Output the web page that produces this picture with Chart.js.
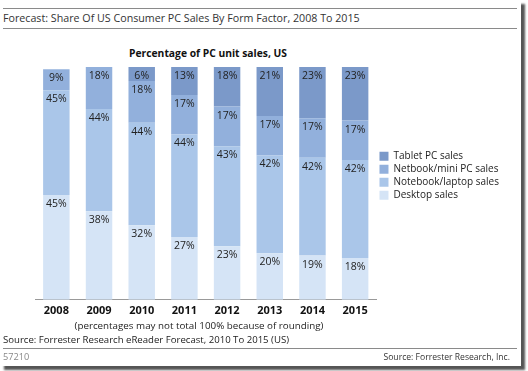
<!DOCTYPE html>
<html>
<head>
<meta charset="utf-8">
<script src="https://cdn.jsdelivr.net/npm/chart.js@4/dist/chart.umd.min.js"></script>
<style>
  html, body { margin: 0; padding: 0; background: #fff; }
  body { width: 528px; height: 371px; position: relative; overflow: hidden; font-family: "Open Sans", "Noto Sans", sans-serif; color: #222; }
  #frame { position: absolute; left: 0; top: 0; width: 521px; height: 366px; background: #fff; box-shadow: 4px 4px 2px #555; }
  .rule { position: absolute; left: 3px; width: 514px; height: 0; border-top: 1px solid #8a8a8a; }
  .txt { position: absolute; white-space: nowrap; line-height: 14px; }
  #chartWrap { position: absolute; left: 0; top: 40px; width: 520px; height: 281px; }
</style>
</head>
<body>
<div id="frame"></div>
<div class="rule" style="top:8px"></div>
<div class="txt" style="left:3px; top:11px; font-size:10.7px; color:#333">Forecast: Share Of US Consumer PC Sales By Form Factor, 2008 To 2015</div>
<div class="rule" style="top:28px"></div>
<div class="txt" style="left:0; width:416px; text-align:center; top:46px; font-size:10.3px; font-weight:bold; color:#111">Percentage of PC unit sales, US</div>
<div id="chartWrap"><canvas id="c"></canvas></div>
<div class="txt" style="left:0; width:398px; text-align:center; top:319px; font-size:9.8px; color:#222">(percentages may not total 100% because of rounding)</div>
<div class="txt" style="left:3px; top:333px; font-size:9.6px; color:#222">Source: Forrester Research eReader Forecast, 2010 To 2015 (US)</div>
<div class="rule" style="top:348px"></div>
<div class="txt" style="left:3px; top:350px; font-size:9.2px; color:#888">57210</div>
<div class="txt" style="right:18px; top:350px; font-size:8.6px; color:#333">Source: Forrester Research, Inc.</div>

<script>
  // ---------- data ----------
  var YEARS = ["2008", "2009", "2010", "2011", "2012", "2013", "2014", "2015"];
  var DESKTOP = [45, 38, 32, 27, 23, 20, 19, 18];
  var NOTEBOOK = [45, 44, 44, 44, 43, 42, 42, 42];
  var NETBOOK = [9, 18, 18, 17, 17, 17, 17, 17];
  var TABLET = [0, 0, 6, 13, 18, 21, 23, 23];

  var COLORS = {
    desktop: "#d5e4f6", notebook: "#aac6e9", netbook: "#92b0dc", tablet: "#7b99c9"
  };
  var FONT = "'Open Sans', 'Noto Sans', sans-serif";

  // draws "NN%" just under the top edge of each segment
  var segmentLabels = {
    id: "segmentLabels",
    afterDatasetsDraw: function (chart) {
      var ctx = chart.ctx, top = chart.chartArea.top;
      ctx.save();
      ctx.font = "10.5px " + FONT;
      ctx.fillStyle = "#222";
      ctx.textAlign = "center";
      ctx.textBaseline = "middle";
      chart.data.datasets.forEach(function (ds, i) {
        chart.getDatasetMeta(i).data.forEach(function (bar, j) {
          var v = ds.data[j];
          if (!v) return;
          ctx.fillText(v + "%", bar.x, Math.max(bar.y, top) + 9);
        });
      });
      ctx.restore();
    }
  };

  new Chart(document.getElementById("c"), {
    type: "bar",
    data: {
      labels: YEARS,
      datasets: [
        { label: "Desktop sales", data: DESKTOP, backgroundColor: COLORS.desktop },
        { label: "Notebook/laptop sales", data: NOTEBOOK, backgroundColor: COLORS.notebook },
        { label: "Netbook/mini PC sales", data: NETBOOK, backgroundColor: COLORS.netbook },
        { label: "Tablet PC sales", data: TABLET, backgroundColor: COLORS.tablet }
      ]
    },
    options: {
      responsive: true, maintainAspectRatio: false, animation: false,
      datasets: { bar: { barPercentage: 0.62, categoryPercentage: 1 } },
      layout: { padding: { left: 35, top: 27, right: 11, bottom: 0 } },
      plugins: {
        legend: {
          position: "right", reverse: true, align: "start",
          title: { display: true, text: " ", padding: { top: 68, bottom: 0 }, font: { size: 11 } },
          labels: {
            boxWidth: 9, boxHeight: 9, padding: 3, color: "#222",
            font: { family: FONT, size: 10 }
          }
        },
        tooltip: { enabled: false },
        title: { display: false }
      },
      scales: {
        x: {
          stacked: true,
          grid: { display: false, drawTicks: false },
          border: { display: true, color: "#999", width: 1 },
          ticks: { color: "#111", padding: 4, font: { family: FONT, size: 11, weight: "bold" } }
        },
        y: { stacked: true, min: 0, max: 100, display: false }
      }
    },
    plugins: [segmentLabels]
  });
</script>
</body>
</html>
